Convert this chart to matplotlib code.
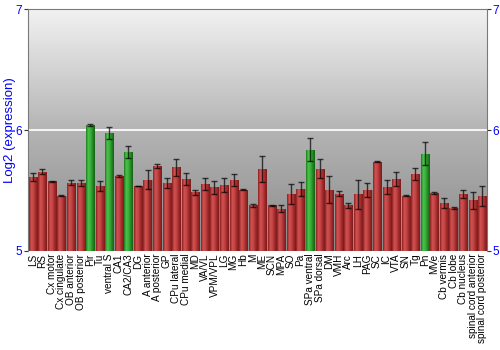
import matplotlib
matplotlib.use('Agg')
import matplotlib.pyplot as plt
import numpy as np
from matplotlib.colors import LinearSegmentedColormap

plt.rcParams['font.family'] = ['Liberation Sans', 'DejaVu Sans']

# regions, expression values and error
regions = [
    'LS', 'RS', 'Cx motor', 'Cx cingulate', 'OB anterior', 'OB posterior', 'Pir', 'Tu', 'ventral S',
    'CA1', 'CA2/CA3', 'DG', 'A anterior', 'A posterior', 'GP', 'CPu lateral', 'CPu medial', 'MD',
    'VA/VL', 'VPM/VPL', 'LG', 'MG', 'Hb', 'M', 'ME', 'SCN', 'MPA', 'SO', 'Pa', 'SPa ventral',
    'SPa dorsal', 'DM', 'VMH', 'Arc', 'LH', 'PAG', 'SC', 'IC', 'VTA', 'SN', 'Tg', 'Pn', 'MVe',
    'Cb vermis', 'Cb lobe', 'Cb nucleus', 'spinal cord anterior', 'spinal cord posterior'
]
values = [
    5.61, 5.655, 5.577, 5.456, 5.566, 5.56, 6.041, 5.536, 5.975,
    5.62, 5.818, 5.536, 5.59, 5.70, 5.564, 5.693, 5.594, 5.486,
    5.555, 5.525, 5.544, 5.586, 5.508, 5.377, 5.677, 5.376, 5.351, 5.47, 5.511, 5.837,
    5.68, 5.506, 5.472, 5.378, 5.467, 5.506, 5.738, 5.528, 5.594, 5.456, 5.638, 5.804, 5.48,
    5.395, 5.356, 5.47, 5.42, 5.453
]
errors = [
    0.035, 0.02, 0.005, 0.005, 0.02, 0.025, 0.005, 0.04, 0.05,
    0.01, 0.05, 0.002, 0.08, 0.015, 0.04, 0.07, 0.05, 0.02,
    0.05, 0.05, 0.06, 0.05, 0.003, 0.01, 0.105, 0.005, 0.03, 0.08, 0.06, 0.095,
    0.08, 0.11, 0.02, 0.02, 0.12, 0.06, 0.003, 0.06, 0.06, 0.005, 0.05, 0.095, 0.005,
    0.04, 0.005, 0.03, 0.07, 0.08
]
highlighted = ['Pir', 'ventral S', 'CA2/CA3', 'SPa ventral', 'Pn']

fig = plt.figure(figsize=(5, 3.5), dpi=100)
ax = fig.add_axes([0.056, 0.283, 0.918, 0.691])

x = np.arange(len(regions))
ax.set_xlim(-0.5, len(regions) - 0.5)
ax.set_ylim(5, 7)

# background gradient
bg = LinearSegmentedColormap.from_list('bg', ['#8a8a8a', '#b4b4b4', '#f2f2f2'])
ax.imshow(np.linspace(0, 1, 256).reshape(-1, 1), cmap=bg, aspect='auto',
          extent=[-0.5, len(regions) - 0.5, 5, 7], origin='lower', zorder=0)
ax.axhline(6, color='#f4f4f4', lw=1.5, zorder=1)

red_cm = LinearSegmentedColormap.from_list('red', ['#8a2020', '#d05252', '#c44444', '#a02a2a', '#7a1a1a'])
green_cm = LinearSegmentedColormap.from_list('green', ['#1f7a1f', '#4cc24c', '#3bb03b', '#248a24', '#176017'])

bars = ax.bar(x, np.array(values) - 5, bottom=5, width=0.85, color='none',
              edgecolor='#8a6a6a', linewidth=0.6, zorder=2)
shade = np.linspace(0, 1, 64).reshape(1, -1)
for b, name in zip(bars, regions):
    cm = green_cm if name in highlighted else red_cm
    im = ax.imshow(shade, cmap=cm, aspect='auto', zorder=2,
                   extent=[b.get_x(), b.get_x() + b.get_width(), b.get_y(), b.get_y() + b.get_height()])
    im.set_clip_path(b)

ax.errorbar(x, values, yerr=errors, fmt='none', ecolor='black', alpha=0.7,
            elinewidth=1, capsize=2, capthick=1, zorder=3)

ax.set_xticks(x)
ax.set_xticklabels(regions, rotation=90, fontsize=7.2)
ax.tick_params(axis='x', length=0, pad=2)
ax.set_yticks([5, 6, 7])
ax.tick_params(axis='y', colors='#333333', labelcolor='#0000ff', labelsize=8.5, length=3, pad=1,
               right=True, labelright=True)
ax.set_ylabel('Log2 (expression)', color='#0000ff', fontsize=9.5, labelpad=0)

for s in ['top', 'left', 'right']:
    ax.spines[s].set_color('#7a7a7a')
ax.spines['bottom'].set_visible(False)

fig.savefig('out.png', dpi=100)
